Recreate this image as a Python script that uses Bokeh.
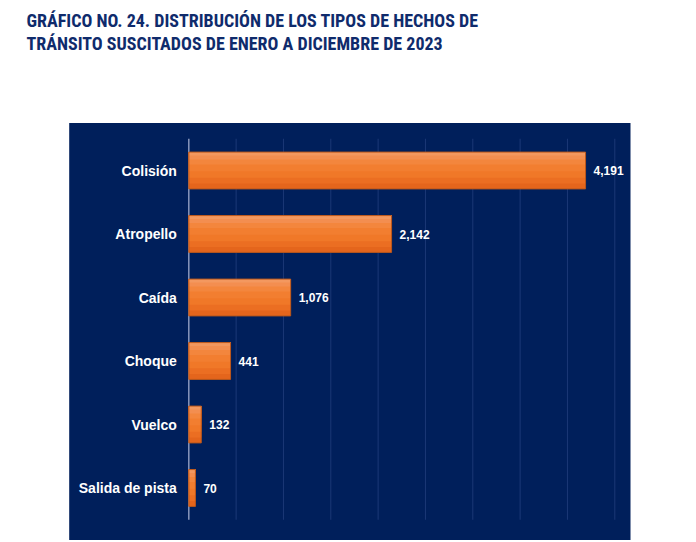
from bokeh.plotting import figure
from bokeh.models import ColumnDataSource, BoxAnnotation, Label, Range1d
from bokeh.transform import dodge
from bokeh.core.properties import value
from bokeh.embed import file_html
from bokeh.resources import INLINE

# ---- data ----
title_lines = [
    "GRÁFICO NO. 24. DISTRIBUCIÓN DE LOS TIPOS DE HECHOS DE",
    "TRÁNSITO SUSCITADOS DE ENERO A DICIEMBRE DE 2023",
]
categories = ["Colisión", "Atropello", "Caída", "Choque", "Vuelco", "Salida de pista"]
counts = [4191, 2142, 1076, 441, 132, 70]
grid_ticks = [0, 500, 1000, 1500, 2000, 2500, 3000, 3500, 4000, 4500]

# ---- layout constants ----
W, H = 680, 540
NAVY = "#001F5B"
TITLE_COLOR = "#0F2B6C"

ypos = [len(categories) - 1 - i for i in range(len(categories))]
labels = [f"{v:,}" for v in counts]
src = ColumnDataSource(dict(cat=categories, y=ypos, value=counts, label=labels))

x0_px, x4500_px = 188.3, 614.3
ppu = (x4500_px - x0_px) / 4500.0
x_start = -x0_px / ppu
x_end = 4500 + (W - x4500_px) / ppu
row_px = 63.5
y_top_center_px = 170.0
y_end = 5 + y_top_center_px / row_px
y_start = 5 - (H - y_top_center_px) / row_px

p = figure(width=W, height=H, output_backend="svg", toolbar_location=None, tools="",
           x_range=Range1d(x_start, x_end), y_range=Range1d(y_start, y_end),
           x_axis_location=None, y_axis_location=None, min_border=0)
p.outline_line_color = None
p.background_fill_color = "white"
p.border_fill_color = "white"
p.xgrid.visible = False
p.ygrid.visible = False

panel = BoxAnnotation(left=(68.7 - x0_px) / ppu, right=(630 - x0_px) / ppu,
                      top=5 + (y_top_center_px - 122.5) / row_px,
                      fill_color=NAVY, fill_alpha=1.0, line_color=None, level="underlay")
p.add_layout(panel)

n_cat = len(categories)
gx = grid_ticks[1:]
p.segment(x0=gx, x1=gx, y0=[-0.5] * len(gx), y1=[n_cat - 0.5] * len(gx),
          line_color="#1B3876", line_width=1)
p.segment(x0=[0], x1=[0], y0=[-0.5], y1=[n_cat - 0.5], line_color="#8A98BC", line_width=1.5)

BH = 0.58
layers = [(1.0, "#E4651C"), (0.85, "#EB6E22"), (0.7, "#F07828"), (0.52, "#F27E30"),
          (0.34, "#F3863D"), (0.2, "#F38E50"), (0.09, "#F3985F")]
for frac, col in layers:
    h = BH * frac
    p.hbar(y=dodge("y", (BH - h) / 2, range=p.y_range), left=0, right="value", height=h,
           fill_color=col, line_color=None, source=src)
p.hbar(y="y", left=0, right="value", height=BH, fill_color=None,
       line_color="#B8561C", line_width=1, source=src)

p.text(x=0, y="y", text="cat", source=src, x_offset=-12, text_align="right",
       text_baseline="middle", text_color="white", text_font=value("Liberation Sans"),
       text_font_size="14px", text_font_style="bold")
p.text(x="value", y="y", text="label", source=src, x_offset=8, text_align="left",
       text_baseline="middle", text_color="white", text_font=value("Liberation Sans"),
       text_font_size="12px", text_font_style="bold")

for line, base in zip(title_lines, [19.5, 43]):
    p.add_layout(Label(x=26, y=H - base, x_units="screen", y_units="screen", text=line,
                       text_font="Roboto Condensed",
                       text_font_size="18px", text_font_style="bold",
                       text_color=TITLE_COLOR, text_baseline="alphabetic"))

open("out.html", "w").write(file_html(p, INLINE))
